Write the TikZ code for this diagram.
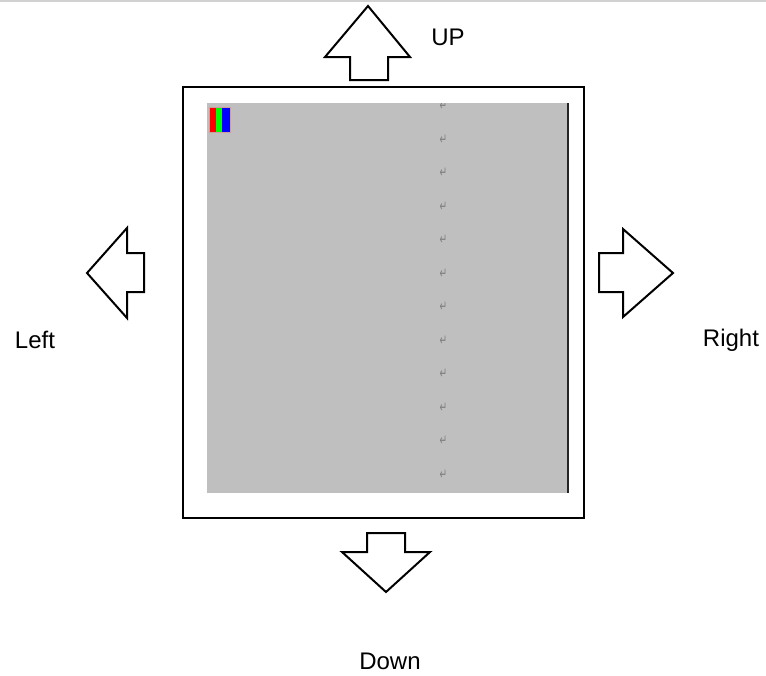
\documentclass[tikz,border=0pt]{standalone}
\usepackage{fontspec}
\setmainfont{Liberation Sans}
\newfontfamily\markfont{DejaVu Sans}
\begin{document}
\begin{tikzpicture}[x=1pt,y=-1pt,
  blockarrow/.style={draw=black,fill=white,line width=2pt,line join=miter},
  caption/.style={font=\fontsize{24}{28}\selectfont,inner sep=0pt,text=black},
  retmark/.style={font=\markfont\fontsize{12}{13}\selectfont,text=black!50,inner sep=0pt}]
  \useasboundingbox (0,0) rectangle (766,675);
  \fill[white] (0,0) rectangle (766,675);
  % thin rule along the top edge
  \draw[black!18,line width=1.5pt] (0,0.75) -- (766,0.75);

  % outer frame
  \draw[line width=2.5pt] (183,87) rectangle (584,518);
  % grey page area
  \fill[black!25] (207,103) rectangle (568,493);
  \draw[black!85,line width=1.5pt] (568,103) -- (568,493);

  % colour bars
  \fill[red!70!white,opacity=0.3] (209,107) rectangle (231,133);
  \fill[red] (210,108) rectangle (216,132);
  \fill[green] (216,108) rectangle (222,132);
  \fill[blue] (222,108) rectangle (230,132);

  % paragraph marks
  \begin{scope}
    \clip (207,103) rectangle (568,493);
    \foreach \i in {0,...,11}
      \node[retmark] (m\i) at (443.5,{106+33.5*\i}) {\scalebox{0.75}[1.25]{↵}};
  \end{scope}

  % up arrow
  \draw[blockarrow] (368,6) -- (410,57) -- (388,57) -- (388,80) -- (350,80) -- (350,57) -- (325,57) -- cycle;
  % left arrow
  \draw[blockarrow] (87,273) -- (127,228) -- (127,253) -- (144,253) -- (144,292) -- (127,292) -- (127,318) -- cycle;
  % right arrow
  \draw[blockarrow] (673,273) -- (623,229) -- (623,253) -- (599,253) -- (599,292) -- (623,292) -- (623,317) -- cycle;
  % down arrow
  \draw[blockarrow] (386,592) -- (430,552) -- (405,552) -- (405,533) -- (367,533) -- (367,552) -- (342,552) -- cycle;

  % labels
  \node[caption] (up) at (448,37) {UP};
  \node[caption] (left) at (35,340) {Left};
  \node[caption] (right) at (731,340) {Right};
  \node[caption] (down) at (390,661) {Down};
\end{tikzpicture}
\end{document}
